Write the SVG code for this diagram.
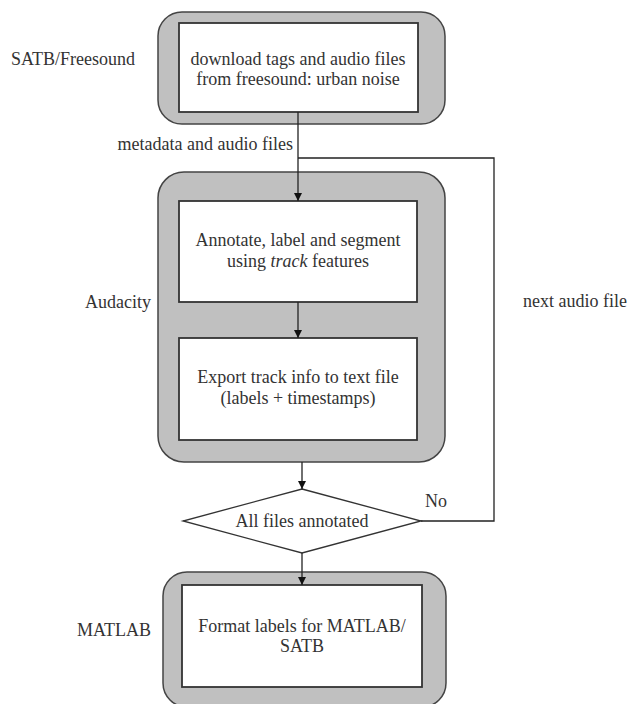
<svg xmlns="http://www.w3.org/2000/svg" width="629" height="704" viewBox="0 0 629 704">
<defs>
<marker id="arr" viewBox="0 0 10 10" refX="10" refY="5" markerWidth="9" markerHeight="8" markerUnits="userSpaceOnUse" orient="auto">
<path d="M0,0 L10,5 L0,10 Z" fill="#111"/>
</marker>
<style>
.outer{fill:#c0c0c0;stroke:#444;stroke-width:1.5}
.inner{fill:#fff;stroke:#333;stroke-width:1.8}
.t{font-family:"Liberation Serif","Times New Roman",serif;font-size:18px;fill:#333}
.c{text-anchor:middle}
.e{text-anchor:end}
.conn{fill:none;stroke:#222;stroke-width:1.3}
</style>
</defs>
<rect width="629" height="704" fill="#fff"/>
<g id="lane-satb">
<text class="t" x="11" y="65">SATB/Freesound</text>
</g>
<g id="lane-audacity">
<text class="t e" x="151" y="308">Audacity</text>
</g>
<g id="lane-matlab">
<text class="t e" x="151" y="636">MATLAB</text>
</g>
<g id="block-freesound">
<rect class="outer" x="158" y="12" width="287" height="112" rx="24"/>
<g id="node-download">
<rect class="inner" x="179" y="23" width="239" height="89"/>
<text class="t c" x="298" y="65">download tags and audio files</text>
<text class="t c" x="298" y="85">from freesound: urban noise</text>
</g>
</g>
<g id="block-audacity">
<rect class="outer" x="158" y="172" width="287" height="290" rx="26"/>
<g id="node-annotate">
<rect class="inner" x="179" y="201" width="238" height="101"/>
<text class="t c" x="298" y="246">Annotate, label and segment</text>
<text class="t c" x="298" y="267">using <tspan font-style="italic">track</tspan> features</text>
</g>
<g id="node-export">
<rect class="inner" x="179" y="338" width="238" height="102"/>
<text class="t c" x="298" y="383">Export track info to text file</text>
<text class="t c" x="298" y="404">(labels + timestamps)</text>
</g>
</g>
<g id="node-decision">
<polygon points="302,489 421,521 302,553 183,521" fill="#fff" stroke="#333" stroke-width="1.3"/>
<text class="t c" x="302" y="527">All files annotated</text>
</g>
<g id="block-matlab">
<rect class="outer" x="163" y="572" width="283" height="135" rx="24"/>
<g id="node-format">
<rect class="inner" x="182" y="585" width="240" height="102"/>
<text class="t c" x="302" y="632">Format labels for MATLAB/</text>
<text class="t c" x="302" y="652">SATB</text>
</g>
</g>
<g id="connectors">
<line class="conn" x1="298" y1="112" x2="298" y2="201" marker-end="url(#arr)"/>
<line class="conn" x1="298" y1="302" x2="298" y2="338" marker-end="url(#arr)"/>
<line class="conn" x1="302" y1="462" x2="302" y2="489" marker-end="url(#arr)"/>
<line class="conn" x1="302" y1="553" x2="302" y2="585" marker-end="url(#arr)"/>
<polyline class="conn" points="421,521 494,521 494,158 298,158"/>
<text class="t e" x="293" y="150">metadata and audio files</text>
<text class="t" x="523" y="307">next audio file</text>
<text class="t" x="425" y="507">No</text>
</g>
</svg>
